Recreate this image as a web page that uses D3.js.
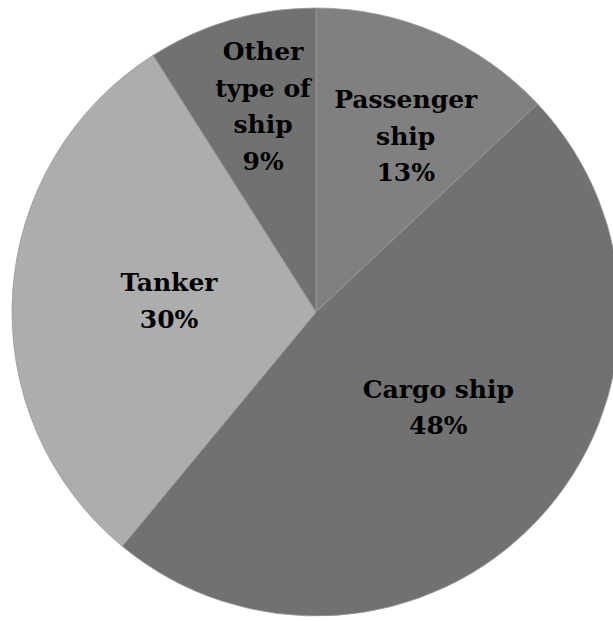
<!DOCTYPE html>
<html>
<head>
<meta charset="utf-8">
<script src="https://cdn.jsdelivr.net/npm/d3@7"></script>
<style>
  html, body { margin: 0; padding: 0; background: #fff; }
  svg { display: block; }
</style>
</head>
<body>
<svg id="chart" width="613" height="621"></svg>
<script>
// Ship types and their share of the total (percent)
const categories = ["Passenger ship", "Cargo ship", "Tanker", "Other type of ship"];
const shares = [13, 48, 30, 9];
// Label lines drawn inside each slice
const labelLines = [
  ["Passenger", "ship", "13%"],
  ["Cargo ship", "48%"],
  ["Tanker", "30%"],
  ["Other", "type of", "ship", "9%"]
];
const sliceColors = ["#808080", "#717171", "#adadad", "#717171"];
// Label placement: distance from the centre (fraction of radius) and angular nudge (degrees)
const labelRadius = [0.65, 0.51, 0.485, 0.70];
const labelNudge = [3.6, -5.3, 0.9, 1.8];

const cx = 316, cy = 312, R = 304;
const lineHeight = 36.5;
const fontSize = 25;

const svg = d3.select("#chart");
const g = svg.append("g").attr("transform", `translate(${cx},${cy})`);

const data = categories.map((c, i) => ({ name: c, value: shares[i], i }));
const pie = d3.pie().value(d => d.value).sort(null);
const arcs = pie(data);
const arc = d3.arc().innerRadius(0).outerRadius(R);

g.selectAll("path.slice")
  .data(arcs)
  .join("path")
  .attr("class", "slice")
  .attr("d", arc)
  .attr("fill", d => sliceColors[d.data.i])
  .attr("stroke", "#9a9a9a")
  .attr("stroke-width", 0.8);

const labels = g.selectAll("text.label")
  .data(arcs)
  .join("text")
  .attr("class", "label")
  .attr("text-anchor", "middle")
  .attr("font-family", "'DejaVu Serif', 'Liberation Serif', serif")
  .attr("font-weight", "bold")
  .attr("font-size", fontSize)
  .attr("fill", "#000")
  .attr("transform", d => {
    const r = R * labelRadius[d.data.i];
    const a = (d.startAngle + d.endAngle) / 2 + labelNudge[d.data.i] * Math.PI / 180;
    return `translate(${r * Math.sin(a)},${-r * Math.cos(a)})`;
  });

labels.each(function(d) {
  const lines = labelLines[d.data.i];
  const n = lines.length;
  d3.select(this).selectAll("tspan")
    .data(lines)
    .join("tspan")
    .attr("x", 0)
    .attr("y", (t, k) => (k - (n - 1) / 2) * lineHeight + 9)
    .text(t => t);
});
</script>
</body>
</html>
